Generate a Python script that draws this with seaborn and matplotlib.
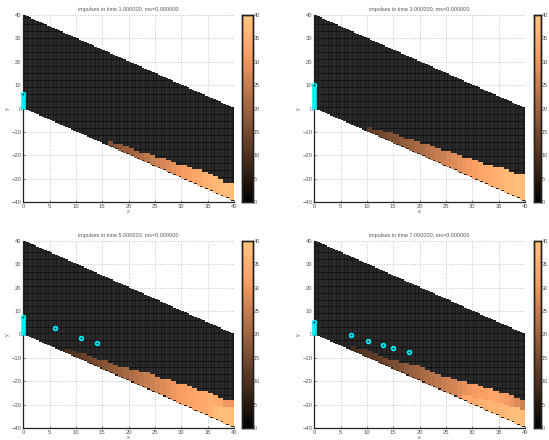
# -*- coding: utf-8 -*-
import numpy as np
import pandas as pd
import matplotlib
matplotlib.use('agg')
import matplotlib.pyplot as plt
import seaborn as sns

times = [1, 3, 5, 7]

# first column of the hot region, then per column its upper edge and value
start_1 = 16
top_1 = [-14,-15,-15,-16,-17,-18,-19,-19,-20,-21,-21,-22,-23,-24,-24,-25,-26,-26,-27,-28,-29,-30,-32,-32]
val_1 = [16,17,18,19,20,21,22,24,25,26,27,28,29,30,31,32,33,34,35,36,37,37,38,38]

start_2 = 10
top_2 = [-8,-9,-9,-10,-10,-11,-12,-13,-13,-14,-15,-15,-16,-17,-18,-18,-19,-20,-21,-21,-22,-23,-24,-24,-25,-25,-26,-27,-28,-28]
val_2 = [12,13,14,15,16,17,18,19,20,21,22,23,24,25,26,27,28,29,30,31,32,33,34,34,35,36,37,37,38,38]

start_3 = 8
top_3 = [-6,-7,-8,-8,-9,-10,-11,-11,-12,-13,-14,-14,-15,-15,-16,-16,-17,-18,-19,-19,-20,-21,-21,-22,-23,-24,-24,-25,-26,-27,-28,-28]
val_3 = [10,11,12,13,14,15,16,17,18,19,20,21,22,23,24,25,26,27,28,29,30,31,32,33,33,34,34,35,34,34,30,30]

start_4 = 7
top_4 = [-5,-6,-6,-7,-8,-9,-10,-11,-11,-12,-12,-13,-13,-14,-15,-16,-17,-18,-18,-19,-20,-20,-21,-21,-22,-23,-23,-24,-25,-25,-26,-27,-28]
val_4 = [9,10,11,12,12,13,14,15,16,17,18,19,20,21,22,23,24,25,26,27,28,29,30,31,32,32,33,33,32,31,30,28,26]

# brighter core under the front in the later panels
core_start_3 = 36
core_top_3 = [-30,-31,-31,-31]
core_val_3 = [37,38,38,38]

core_start_4 = 28
core_top_4 = [-26,-26,-27,-27,-28,-28,-29,-29,-30,-31,-31,-32]
core_val_4 = [33,34,34,35,35,36,36,37,37,38,38,38]

# cyan column at the wall
wall_height = [6.3, 10.2, 7.3, 5.5]

# free particles
part_x_3 = [6.1, 11, 14]
part_y_3 = [2.6, -1.6, -3.6]
part_x_4 = [7, 10.2, 13.1, 15, 18]
part_y_4 = [-0.4, -2.6, -4.6, -5.6, -7.5]

x_ticks = list(range(0, 41, 5))
y_ticks = list(range(-40, 41, 10))
cbar_ticks = list(range(0, 41, 5))

W, H = 549, 440
TEXT = '#555555'
CYAN = '#00f0f5'
SUB = 2  # mesh cells per data unit


# data coordinates to heatmap cell coordinates
def col_pos(x):
    return x * SUB


def row_pos(y):
    return (40 - y) * SUB


# Fills the slanted band on the fine mesh, rows go from y=40 downwards
def build_field(start, top, val, core_start=None, core_top=None, core_val=None):
    field = np.full((80 * SUB, 40 * SUB), np.nan)
    for c in range(40 * SUB):
        first = row_pos(40 - c / SUB)
        field[int(first):int(first) + 40 * SUB, c] = 0
    layers = [(start, top, val)]
    if core_top is not None:
        layers.append((core_start, core_top, core_val))
    for first_col, tops, vals in layers:
        for i, col in enumerate(range(first_col, first_col + len(tops))):
            # the hot cells of a column stop one step above the band edge
            field[row_pos(tops[i]):row_pos(-col), col * SUB:(col + 1) * SUB] = vals[i]
    return pd.DataFrame(field)


fields = [
    build_field(start_1, top_1, val_1),
    build_field(start_2, top_2, val_2),
    build_field(start_3, top_3, val_3, core_start_3, core_top_3, core_val_3),
    build_field(start_4, top_4, val_4, core_start_4, core_top_4, core_val_4),
]
parts = [([], []), ([], []), (part_x_3, part_y_3), (part_x_4, part_y_4)]

# pixel boxes: left, right of the axes, left, right of the colorbar, top, bottom
boxes = [
    (23.3, 234, 242, 252.5, 15, 202),
    (314.3, 525, 533.5, 541, 15, 202),
    (23.3, 234, 242, 252.5, 240.7, 428.3),
    (314.3, 525, 533.5, 541, 240.7, 428.3),
]

sns.set_style('white')
plt.rcParams['font.family'] = ['Liberation Sans', 'DejaVu Sans']

fig = plt.figure(figsize=(W / 100, H / 100), dpi=100)

for n, box in enumerate(boxes):
    left, right, c_left, c_right, top, bottom = box
    ax = fig.add_axes([left / W, 1 - bottom / H, (right - left) / W, (bottom - top) / H])
    cax = fig.add_axes([c_left / W, 1 - bottom / H, (c_right - c_left) / W, (bottom - top) / H])

    # cold cells show the mesh, hot cells are drawn plain
    field = fields[n]
    sns.heatmap(field, mask=~(field == 0), ax=ax, cbar=False, cmap='copper', vmin=0, vmax=40,
                linewidths=0.2, linecolor=(1, 1, 1, 0.06), xticklabels=False, yticklabels=False)
    sns.heatmap(field, mask=~(field > 0), ax=ax, cbar_ax=cax, cmap='copper', vmin=0, vmax=40,
                xticklabels=False, yticklabels=False)
    ax.set_aspect('auto')

    ax.set_axisbelow(True)
    ax.grid(True, linestyle=':', color='#b4b4b4', linewidth=0.7)
    ax.set_xticks([col_pos(v) for v in x_ticks])
    ax.set_xticklabels([str(v) for v in x_ticks])
    ax.set_yticks([row_pos(v) for v in y_ticks])
    ax.set_yticklabels([str(v).replace('-', '\u2212') for v in y_ticks])
    ax.tick_params(axis='both', direction='in', length=1.5, width=0.5, labelsize=4.2,
                   labelcolor=TEXT, color='#222222', pad=1.2, left=True, bottom=True)

    for side in ['left', 'bottom']:
        ax.spines[side].set_visible(True)
        ax.spines[side].set_color('#222222')
        ax.spines[side].set_linewidth(0.9)
    for side in ['top', 'right']:
        ax.spines[side].set_visible(False)

    ax.set_title('impulses in time %f, ms=%f' % (times[n], 0), fontsize=3.9, color=TEXT, pad=3)
    ax.set_xlabel('x', fontsize=4, color=TEXT, labelpad=0)
    ax.set_ylabel('y', fontsize=4, color=TEXT, labelpad=1)

    # wall column, its top marker and the free particles
    sns.lineplot(x=[0, 0], y=[row_pos(0), row_pos(wall_height[n])], ax=ax, color=CYAN, linewidth=3.3,
                 estimator=None, sort=False, legend=False, clip_on=False, zorder=5,
                 solid_capstyle='butt')
    sns.scatterplot(x=[0], y=[row_pos(wall_height[n])], ax=ax, s=7, color='#101010', edgecolor=CYAN,
                    linewidth=1.3, legend=False, clip_on=False, zorder=6)
    if len(parts[n][0]) > 0:
        sns.scatterplot(x=[col_pos(v) for v in parts[n][0]], y=[row_pos(v) for v in parts[n][1]],
                        ax=ax, s=7, color='#101010', edgecolor=CYAN, linewidth=1.3, legend=False,
                        zorder=6)
    ax.set_xlim(0, col_pos(40))
    ax.set_ylim(row_pos(-40), row_pos(40))

    cax.set_yticks(cbar_ticks)
    cax.set_yticklabels([str(v) for v in cbar_ticks])
    cax.tick_params(axis='y', direction='in', length=1.5, width=0.5, labelsize=4,
                    labelcolor=TEXT, color='#222222', pad=0.7, right=True, left=True)
    for spine in cax.spines.values():
        spine.set_visible(True)
        spine.set_color('#222222')
        spine.set_linewidth(1.0)

fig.savefig('out.png', dpi=100)
